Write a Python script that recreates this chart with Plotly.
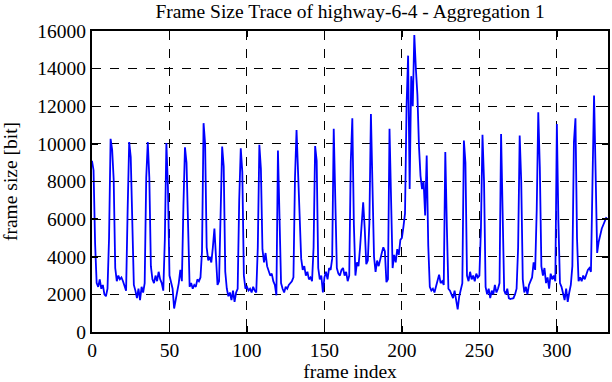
import plotly.graph_objects as go

# Frame sizes [bit], one row per GOP of 12 frames (I-frame first)
gop_00 = [9100, 8600, 4700, 2600, 2400, 2800, 2300, 2500, 2000, 1900, 2300, 5000]
gop_01 = [10270, 9700, 8100, 3400, 2700, 3000, 2800, 2900, 2700, 2500, 2200, 6500]
gop_02 = [10100, 9300, 5700, 2500, 2200, 1800, 2300, 1700, 2400, 2100, 2600, 8200]
gop_03 = [10100, 8200, 3500, 2800, 2600, 3000, 2700, 3200, 2800, 2600, 2200, 4900]
gop_04 = [10050, 7700, 3000, 2600, 2300, 1250, 1700, 2100, 2600, 3300, 2700, 6700]
gop_05 = [9820, 9000, 5600, 2400, 2600, 2300, 2500, 2400, 2800, 2700, 2900, 4300]
gop_06 = [11100, 10000, 4500, 3800, 4000, 3700, 4500, 5500, 4000, 2500, 2700, 7000]
gop_07 = [9860, 8800, 3200, 2300, 1900, 2100, 1700, 2200, 1600, 2100, 2300, 7000]
gop_08 = [9770, 8500, 3000, 2300, 2400, 2200, 2300, 2100, 2400, 2200, 2100, 4500]
gop_09 = [9950, 8670, 4400, 3700, 4200, 3500, 3300, 3000, 3100, 2700, 2500, 1950]
gop_10 = [9650, 6700, 2600, 2300, 2100, 2400, 2300, 2500, 2600, 2700, 2900, 8200]
gop_11 = [10740, 8500, 5800, 3900, 3300, 3500, 3000, 3200, 2800, 2900, 2700, 4500]
gop_12 = [9880, 9100, 3400, 2800, 3000, 2100, 2900, 3200, 2800, 3400, 3300, 3900]
gop_13 = [10800, 7350, 3400, 3100, 3000, 3300, 3400, 3000, 3200, 2700, 3000, 9030]
gop_14 = [11360, 5700, 3000, 3700, 3500, 4500, 5800, 6900, 5500, 3600, 3800, 5800]
gop_15 = [11590, 8500, 4000, 3200, 3800, 3500, 3900, 4200, 4500, 4300, 2650, 2800]
gop_16 = [10800, 6900, 3400, 4100, 3700, 4400, 4100, 4900, 5000, 5600, 6300, 12000]
gop_17 = [14690, 7600, 13600, 12000, 15790, 14000, 12600, 9900, 8300, 7600, 8000, 6200]
gop_18 = [9380, 4600, 2400, 2200, 2300, 2100, 2400, 2600, 3050, 2600, 2700, 2500]
gop_19 = [9570, 5600, 2300, 2200, 2000, 1800, 2200, 1600, 1200, 1900, 2300, 2600]
gop_20 = [10180, 9000, 3000, 2700, 3200, 2800, 3000, 2700, 3100, 2900, 3000, 5500]
gop_21 = [10480, 8000, 2400, 2000, 2300, 1800, 2200, 2000, 2500, 2100, 2300, 2600]
gop_22 = [10530, 5500, 2200, 2000, 2300, 1800, 1750, 1780, 1800, 2000, 2300, 4500]
gop_23 = [10440, 8000, 2800, 2100, 2400, 2000, 2500, 2700, 2900, 3700, 3300, 6500]
gop_24 = [11680, 8760, 3500, 3000, 3400, 2600, 2900, 2300, 3100, 2800, 3000, 2700]
gop_25 = [11060, 5840, 2600, 2400, 2000, 1700, 2300, 1600, 2100, 2500, 3500, 10090]
gop_26 = [11360, 5000, 2700, 2900, 2700, 3000, 2800, 3100, 3300, 3400, 3200, 8000]
gop_27 = [12570, 8500, 4200, 4800, 5200, 5500, 5700, 5930, 6110]

gops = [gop_00, gop_01, gop_02, gop_03, gop_04, gop_05, gop_06, gop_07, gop_08,
        gop_09, gop_10, gop_11, gop_12, gop_13, gop_14, gop_15, gop_16, gop_17,
        gop_18, gop_19, gop_20, gop_21, gop_22, gop_23, gop_24, gop_25, gop_26,
        gop_27]
frame_size = [v for g in gops for v in g]
frame_index = list(range(len(frame_size)))

x_ticks = [0, 50, 100, 150, 200, 250, 300]
y_ticks = [0, 2000, 4000, 6000, 8000, 10000, 12000, 14000, 16000]

FONT = "Liberation Serif, Times New Roman, serif"
FS = 19.5

fig = go.Figure()
fig.add_trace(go.Scatter(
    x=frame_index, y=frame_size, mode="lines",
    line=dict(color="#0000ff", width=1.8), showlegend=False,
))

axis_common = dict(
    showline=True, linecolor="black", linewidth=2, mirror="ticks",
    ticks="inside", ticklen=6, tickwidth=1.5, tickcolor="black",
    showgrid=True, gridcolor="black", gridwidth=1, griddash="dash",
    zeroline=False, automargin=False, tickformat="d",
    tickfont=dict(family=FONT, size=FS, color="black"),
)

fig.update_layout(
    width=612, height=382,
    margin=dict(l=92, r=4, t=31, b=50),
    paper_bgcolor="white", plot_bgcolor="white",
    font=dict(family=FONT, size=FS, color="black"),
    title=dict(text="Frame Size Trace of highway-6-4 - Aggregation 1",
               x=0.572, xanchor="center", y=0.970, yanchor="middle",
               font=dict(family=FONT, size=FS, color="black")),
    xaxis=dict(range=[0, 333], tickvals=x_ticks,
               title=dict(text="frame index", standoff=4,
                          font=dict(family=FONT, size=FS)),
               **axis_common),
    yaxis=dict(range=[0, 16000], tickvals=y_ticks,
               title=dict(text="frame size [bit]", standoff=15,
                          font=dict(family=FONT, size=FS)),
               **axis_common),
)

fig.write_html(
    "out.html",
    config={"displayModeBar": False, "staticPlot": True},
    post_script="document.body.style.margin='0';document.body.style.overflow='hidden';",
)
